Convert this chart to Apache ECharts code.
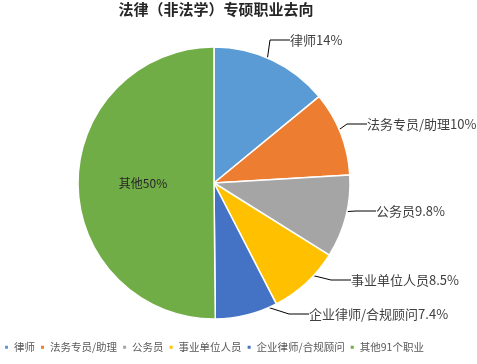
<!DOCTYPE html>
<html><head><meta charset="utf-8">
<script src="https://cdn.jsdelivr.net/npm/echarts@6/dist/echarts.min.js"></script>
<style>html,body{margin:0;padding:0;background:#fff}#c{width:477px;height:364px}</style>
</head><body><div id="c"></div>
<script>
const categories = ['律师', '法务专员/助理', '公务员', '事业单位人员', '企业律师/合规顾问', '其他91个职业'];
const labelNames = ['律师', '法务专员/助理', '公务员', '事业单位人员', '企业律师/合规顾问', '其他'];
const values = [14, 10, 9.8, 8.5, 7.4, 50];
const valueTexts = ['14%', '10%', '9.8%', '8.5%', '7.4%', '50%'];
const colors = ['#5B9BD5', '#ED7D31', '#A5A5A5', '#FFC000', '#4472C4', '#70AD47'];

const CX = 214, CY = 183, R = 136;
const labelSpots = [
  {x: 290, y: 40},
  {x: 367, y: 124},
  {x: 376, y: 211},
  {x: 351, y: 280},
  {x: 309, y: 314},
  null
];

const chart = echarts.init(document.getElementById('c'), null, {renderer: 'canvas'});
chart.setOption({
  animation: false,
  color: colors,
  title: {
    text: '法律（非法学）专硕职业去向',
    left: 216, textAlign: 'center', top: 2, padding: 0,
    textStyle: {fontFamily: 'Noto Sans CJK SC', fontSize: 15, fontWeight: 'bold', color: '#262626'}
  },
  legend: {
    left: 3, top: 342, padding: 0,
    icon: 'rect', itemWidth: 5, itemHeight: 5, itemGap: 4,
    textStyle: {fontFamily: 'Noto Sans CJK SC', fontSize: 10.5, color: '#595959'},
    data: categories
  },
  series: [{
    type: 'pie',
    center: [CX, CY],
    radius: [0, R],
    startAngle: 90,
    clockwise: true,
    itemStyle: {borderColor: '#fff', borderWidth: 1.5},
    label: {show: false},
    labelLine: {show: false},
    data: categories.map((c, i) => ({
      name: c, value: values[i],
      label: i === 5 ? {show: true, position: 'inside', fontFamily: 'Noto Sans CJK SC', fontSize: 12, color: '#262626',
        formatter: p => labelNames[p.dataIndex] + valueTexts[p.dataIndex]} : undefined
    }))
  }, {
    type: 'pie',
    silent: true,
    legendHoverLink: false,
    center: [CX, CY],
    radius: [0, R * 0.88],
    startAngle: 90,
    clockwise: true,
    itemStyle: {color: 'rgba(0,0,0,0)', borderWidth: 0},
    emphasis: {disabled: true},
    data: labelNames.map((c, i) => ({
      name: c, value: values[i],
      label: i === 5 ? {show: false} : undefined,
      labelLine: i === 5 ? {show: false} : undefined
    })),
    label: {
      show: true, position: 'outside', overflow: 'none', width: 200,
      fontFamily: 'Noto Sans CJK SC', fontSize: 13, color: '#404040',
      formatter: p => labelNames[p.dataIndex] + valueTexts[p.dataIndex]
    },
    labelLine: {show: true, length: 15, length2: 20, lineStyle: {color: '#000', width: 1}},
    labelLayout: function (p) {
      const s = labelSpots[p.dataIndex];
      if (!s) return {};
      return {x: s.x, y: s.y, align: 'left', verticalAlign: 'middle'};
    }
  }]
});
</script></body></html>
